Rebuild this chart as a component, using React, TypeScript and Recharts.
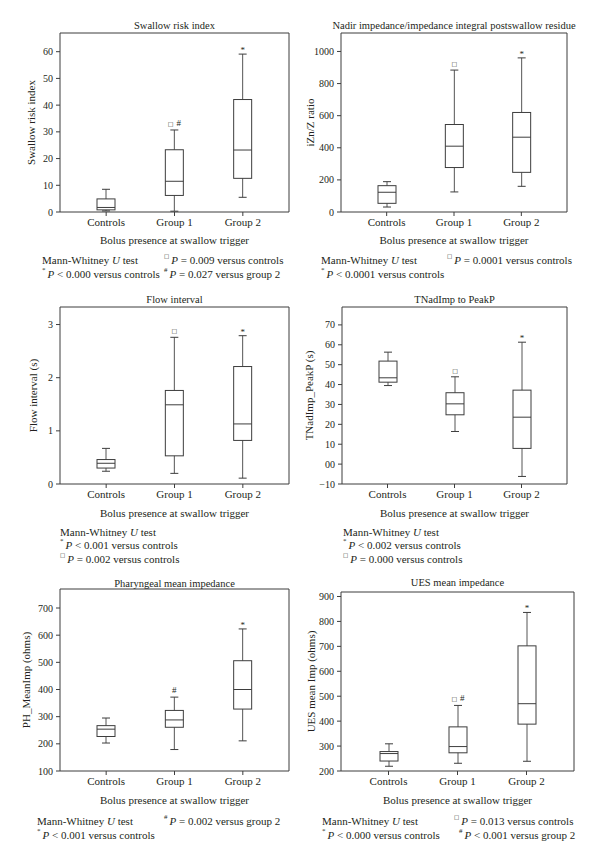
import React from "react";
import { ComposedChart, Bar, XAxis, YAxis } from "recharts";

const groups = ["Controls", "Group 1", "Group 2"];

// Swallow risk index
const sriMin = [0.4, 0.3, 5.5];
const sriQ1 = [0.8, 6.2, 12.6];
const sriMed = [1.7, 11.5, 23.2];
const sriQ3 = [4.9, 23.3, 42.1];
const sriMax = [8.5, 30.7, 59.1];
const sriMarks = ["", "□ #", "*"];
const sriTicks = [0, 10, 20, 30, 40, 50, 60];

// Nadir impedance / impedance integral ratio
const izMin = [31, 125, 160];
const izQ1 = [54, 277, 247];
const izMed = [123, 410, 466];
const izQ3 = [164, 545, 620];
const izMax = [189, 884, 960];
const izMarks = ["", "□", "*"];
const izTicks = [0, 200, 400, 600, 800, 1000];

// Flow interval (s)
const fiMin = [0.24, 0.2, 0.11];
const fiQ1 = [0.3, 0.53, 0.82];
const fiMed = [0.39, 1.49, 1.13];
const fiQ3 = [0.46, 1.76, 2.21];
const fiMax = [0.67, 2.76, 2.79];
const fiMarks = ["", "□", "*"];
const fiTicks = [0, 1, 2, 3];

// TNadImp to PeakP
const tnMin = [39.5, 16.4, -6.2];
const tnQ1 = [41.2, 24.8, 7.9];
const tnMed = [43.4, 30.3, 23.6];
const tnQ3 = [51.8, 35.9, 37.2];
const tnMax = [56.3, 43.9, 61.3];
const tnMarks = ["", "□", "*"];
const tnTicks = [-10, 0, 10, 20, 30, 40, 50, 60, 70];

// Pharyngeal mean impedance
const phMin = [203, 179, 211];
const phQ1 = [227, 261, 328];
const phMed = [254, 288, 400];
const phQ3 = [267, 323, 506];
const phMax = [295, 372, 623];
const phMarks = ["", "#", "*"];
const phTicks = [100, 200, 300, 400, 500, 600, 700];

// UES mean impedance
const uesMin = [219, 231, 239];
const uesQ1 = [240, 273, 388];
const uesMed = [270, 298, 470];
const uesQ3 = [278, 377, 702];
const uesMax = [309, 463, 836];
const uesMarks = ["", "□ #", "*"];
const uesTicks = [200, 300, 400, 500, 600, 700, 800, 900];

const ink = "#231f20";
const line = "#3d3d3d";
const serif = "'Liberation Serif', 'Times New Roman', serif";

type Row = {
  g: string;
  span: [number, number];
  min: number;
  q1: number;
  med: number;
  q3: number;
  max: number;
  mark: string;
};

function rows(min: number[], q1: number[], med: number[], q3: number[], max: number[], marks: string[]): Row[] {
  return groups.map((g, i) => ({
    g,
    span: [min[i], max[i]],
    min: min[i],
    q1: q1[i],
    med: med[i],
    q3: q3[i],
    max: max[i],
    mark: marks[i],
  }));
}

// one bar spans min..max; the box, median and caps are placed inside it
function BoxShape(props: any) {
  const { x, y, width, height, payload } = props;
  if (!payload) return null;
  const { min, q1, med, q3, max, mark } = payload as Row;
  const top = Math.min(y, y + height);
  const bot = Math.max(y, y + height);
  const px = (v: number) => top + ((max - v) / (max - min)) * (bot - top);
  const cx = x + width / 2;
  const cap = 4;
  return (
    <g>
      <line x1={cx} x2={cx} y1={top} y2={bot} stroke="#555" strokeWidth={1} />
      <line x1={cx - cap} x2={cx + cap} y1={top} y2={top} stroke={line} strokeWidth={1} />
      <line x1={cx - cap} x2={cx + cap} y1={bot} y2={bot} stroke={line} strokeWidth={1} />
      <rect x={x} y={px(q3)} width={width} height={px(q1) - px(q3)} fill="#fff" stroke={line} strokeWidth={1} />
      <line x1={x} x2={x + width} y1={px(med)} y2={px(med)} stroke={line} strokeWidth={1} />
      {mark ? (
        <text x={cx} y={top - 4} textAnchor="middle" fontSize={9} fill={ink}>
          {mark.split(" ").map((m, i) => (
            <tspan
              key={i}
              dx={i > 0 ? 3 : 0}
              fontSize={m === "□" ? 6 : 9}
              dy={m === "*" ? 3 : 0}
              fontFamily={m === "□" ? "DejaVu Sans" : serif}
            >
              {m}
            </tspan>
          ))}
        </text>
      ) : null}
    </g>
  );
}

const Sup = ({ s }: { s: string }) => (
  <tspan dy={-4} fontSize={s === "□" ? 5.5 : 7} fontFamily={s === "□" ? "DejaVu Sans" : serif}>
    {s}
  </tspan>
);

function PNote({ x, y, sym, rest }: { x: number; y: number; sym: string; rest: string }) {
  return (
    <text x={x} y={y} fontSize={11} fill={ink} dominantBaseline="central">
      <Sup s={sym} />
      <tspan dy={4} dx={2} fontStyle="italic">
        P
      </tspan>
      <tspan>{rest}</tspan>
    </text>
  );
}

function MWNote({ x, y }: { x: number; y: number }) {
  return (
    <text x={x} y={y} fontSize={11} fill={ink} dominantBaseline="central">
      Mann-Whitney <tspan fontStyle="italic">U</tspan> test
    </text>
  );
}

type PanelProps = {
  col: number;
  rowTop: number;
  rowH: number;
  plot: [number, number, number, number];
  pad: number;
  domain: [number, number];
  ticks: number[];
  fmt?: (v: number) => string;
  data: Row[];
  title: string;
  titleY: number;
  yLabel: string;
  yLabelX: number;
  xLabelY: number;
  notes: React.ReactNode;
};

function Panel(p: PanelProps) {
  const [x0, x1, y0, y1] = p.plot;
  const axisW = 40;
  const chartH = y1 - p.rowTop + 22;
  const cx = (x0 + x1) / 2 - p.col;
  return (
    <div style={{ position: "absolute", left: p.col, top: p.rowTop, width: 300, height: p.rowH }}>
      <ComposedChart
        width={300}
        height={chartH}
        data={p.data}
        margin={{ top: y0 - p.rowTop - 1, left: x0 - p.col - axisW, right: p.col + 300 - x1 - 1, bottom: 2 }}
      >
        <XAxis
          dataKey="g"
          type="category"
          padding={{ left: p.pad, right: p.pad }}
          interval={0}
          height={20}
          tickSize={4}
          tickMargin={2}
          tick={{ fontSize: 11, fill: ink }}
          tickLine={{ stroke: line }}
          axisLine={{ stroke: line }}
        />
        {/* top and right edges of the frame */}
        <XAxis
          xAxisId="top"
          dataKey="g"
          orientation="top"
          height={1}
          tick={false}
          tickLine={false}
          axisLine={{ stroke: line }}
        />
        <YAxis
          type="number"
          width={axisW}
          domain={p.domain}
          ticks={p.ticks}
          allowDataOverflow
          interval={0}
          tickSize={4}
          tickMargin={3}
          tickFormatter={p.fmt}
          tick={{ fontSize: 10, fill: ink }}
          tickLine={{ stroke: line }}
          axisLine={{ stroke: line }}
        />
        <YAxis
          yAxisId="right"
          orientation="right"
          width={1}
          domain={p.domain}
          tick={false}
          tickLine={false}
          axisLine={{ stroke: line }}
        />
        <Bar dataKey="span" barSize={18} shape={BoxShape} isAnimationActive={false} />
      </ComposedChart>
      <svg
        width={300}
        height={p.rowH}
        style={{ position: "absolute", left: 0, top: 0, pointerEvents: "none", overflow: "visible" }}
      >
        <text x={cx} y={p.titleY - p.rowTop} textAnchor="middle" dominantBaseline="central" fontSize={10.5} fill={ink}>
          {p.title}
        </text>
        <text
          transform={`translate(${p.yLabelX - p.col},${(y0 + y1) / 2 - p.rowTop}) rotate(-90)`}
          textAnchor="middle"
          dominantBaseline="central"
          fontSize={11}
          fill={ink}
        >
          {p.yLabel}
        </text>
        <text x={cx} y={p.xLabelY - p.rowTop} textAnchor="middle" dominantBaseline="central" fontSize={11} fill={ink}>
          Bolus presence at swallow trigger
        </text>
        <g transform={`translate(${-p.col},${-p.rowTop})`}>{p.notes}</g>
      </svg>
    </div>
  );
}

const tnFmt = (v: number) => (v === 0 ? "00" : v < 0 ? `\u2212${-v}` : String(v));

export default function App() {
  return (
    <div
      style={{
        position: "absolute",
        left: 0,
        top: 0,
        width: 600,
        height: 862,
        background: "#fff",
        fontFamily: serif,
        color: ink,
      }}
    >
      <Panel
        col={0}
        rowTop={0}
        rowH={285}
        plot={[60, 289, 33, 212]}
        pad={12}
        domain={[0, 67]}
        ticks={sriTicks}
        data={rows(sriMin, sriQ1, sriMed, sriQ3, sriMax, sriMarks)}
        title="Swallow risk index"
        titleY={25}
        yLabel="Swallow risk index"
        yLabelX={31}
        xLabelY={240}
        notes={
          <>
            <MWNote x={42} y={260} />
            <PNote x={42} y={274} sym="*" rest=" < 0.000 versus controls" />
            <PNote x={164} y={260} sym="□" rest=" = 0.009 versus controls" />
            <PNote x={164} y={274} sym="#" rest=" = 0.027 versus group 2" />
          </>
        }
      />
      <Panel
        col={300}
        rowTop={0}
        rowH={285}
        plot={[341, 567, 33, 212]}
        pad={12}
        domain={[0, 1115]}
        ticks={izTicks}
        data={rows(izMin, izQ1, izMed, izQ3, izMax, izMarks)}
        title="Nadir impedance/impedance integral postswallow residue"
        titleY={25}
        yLabel="iZn/Z ratio"
        yLabelX={310}
        xLabelY={240}
        notes={
          <>
            <MWNote x={321} y={260} />
            <PNote x={321} y={274} sym="*" rest=" < 0.0001 versus controls" />
            <PNote x={447} y={260} sym="□" rest=" = 0.0001 versus controls" />
          </>
        }
      />
      <Panel
        col={0}
        rowTop={285}
        rowH={285}
        plot={[60, 289, 307, 484]}
        pad={12}
        domain={[0, 3.33]}
        ticks={fiTicks}
        data={rows(fiMin, fiQ1, fiMed, fiQ3, fiMax, fiMarks)}
        title="Flow interval"
        titleY={299}
        yLabel="Flow interval (s)"
        yLabelX={33}
        xLabelY={513}
        notes={
          <>
            <MWNote x={60} y={532} />
            <PNote x={60} y={545} sym="*" rest=" < 0.001 versus controls" />
            <PNote x={60} y={559} sym="□" rest=" = 0.002 versus controls" />
          </>
        }
      />
      <Panel
        col={300}
        rowTop={285}
        rowH={285}
        plot={[342, 567, 307, 484]}
        pad={12}
        domain={[-10, 79]}
        ticks={tnTicks}
        fmt={tnFmt}
        data={rows(tnMin, tnQ1, tnMed, tnQ3, tnMax, tnMarks)}
        title="TNadImp to PeakP"
        titleY={299}
        yLabel="TNadImp_PeakP (s)"
        yLabelX={309}
        xLabelY={513}
        notes={
          <>
            <MWNote x={343} y={532} />
            <PNote x={343} y={545} sym="*" rest=" < 0.002 versus controls" />
            <PNote x={343} y={559} sym="□" rest=" = 0.000 versus controls" />
          </>
        }
      />
      <Panel
        col={0}
        rowTop={570}
        rowH={292}
        plot={[60, 289, 589, 771]}
        pad={12}
        domain={[100, 770]}
        ticks={phTicks}
        data={rows(phMin, phQ1, phMed, phQ3, phMax, phMarks)}
        title="Pharyngeal mean impedance"
        titleY={583}
        yLabel="PH_MeanImp (ohms)"
        yLabelX={26}
        xLabelY={800}
        notes={
          <>
            <MWNote x={37} y={821} />
            <PNote x={37} y={835} sym="*" rest=" < 0.001 versus controls" />
            <PNote x={164} y={821} sym="#" rest=" = 0.002 versus group 2" />
          </>
        }
      />
      <Panel
        col={300}
        rowTop={570}
        rowH={292}
        plot={[341, 574, 592, 771]}
        pad={13}
        domain={[200, 918]}
        ticks={uesTicks}
        data={rows(uesMin, uesQ1, uesMed, uesQ3, uesMax, uesMarks)}
        title="UES mean impedance"
        titleY={582}
        yLabel="UES mean Imp (ohms)"
        yLabelX={311}
        xLabelY={800}
        notes={
          <>
            <MWNote x={322} y={821} />
            <PNote x={322} y={835} sym="*" rest=" < 0.000 versus controls" />
            <PNote x={454} y={821} sym="□" rest=" = 0.013 versus controls" />
            <PNote x={459} y={835} sym="#" rest=" < 0.001 versus group 2" />
          </>
        }
      />
    </div>
  );
}
